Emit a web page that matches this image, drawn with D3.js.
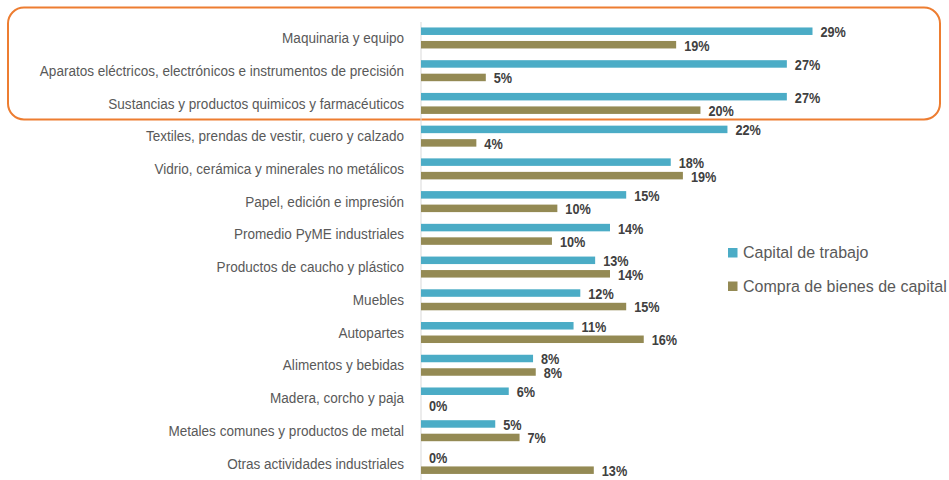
<!DOCTYPE html>
<html>
<head>
<meta charset="utf-8">
<script src="https://cdn.jsdelivr.net/npm/d3@7"></script>
<style>
  html, body { margin: 0; padding: 0; background: #fff; }
  svg { display: block; }
  .cat, .val, .leg { font-family: "Liberation Sans", Arial, sans-serif; }
  .cat { fill: #595959; }
  .val { font-weight: bold; fill: #404040; }
  .leg { fill: #595959; }
</style>
</head>
<body>
<div id="chart"></div>
<script>
const categories = [
  "Maquinaria y equipo",
  "Aparatos eléctricos, electrónicos e instrumentos de precisión",
  "Sustancias y productos quimicos y farmacéuticos",
  "Textiles, prendas de vestir, cuero y calzado",
  "Vidrio, cerámica y minerales no metálicos",
  "Papel, edición e impresión",
  "Promedio PyME industriales",
  "Productos de caucho y plástico",
  "Muebles",
  "Autopartes",
  "Alimentos y bebidas",
  "Madera, corcho y paja",
  "Metales comunes y productos de metal",
  "Otras actividades industriales"
];
const seriesNames = ["Capital de trabajo", "Compra de bienes de capital"];
// bar lengths (percent)
const capitalTrabajo = [29.0, 27.1, 27.1, 22.7, 18.5, 15.2, 14.0, 12.9, 11.8, 11.3, 8.3, 6.5, 5.5, 0];
const bienesCapital  = [18.9, 4.8, 20.7, 4.1, 19.4, 10.1, 9.7, 14.0, 15.2, 16.5, 8.5, 0, 7.3, 12.8];
// printed labels (percent)
const capitalTrabajoLabels = [29, 27, 27, 22, 18, 15, 14, 13, 12, 11, 8, 6, 5, 0];
const bienesCapitalLabels  = [19, 5, 20, 4, 19, 10, 10, 14, 15, 16, 8, 0, 7, 13];
const colors = ["#4BACC6", "#948A54"];

const W = 949, H = 480;

const svg = d3.select("#chart").append("svg").attr("width", W).attr("height", H);

const x = d3.scaleLinear().domain([0, 29]).range([421, 812.5]);
const y = d3.scaleBand().domain(categories).range([21.6, 479.8]);
const yInner = d3.scaleBand().domain(seriesNames).range([0, 21]).paddingInner(0.444);

// highlight box around top three rows
svg.append("rect")
  .attr("x", 8).attr("y", 7.5)
  .attr("width", 932).attr("height", 112)
  .attr("rx", 16).attr("ry", 16)
  .attr("fill", "none")
  .attr("stroke", "#ED7D31")
  .attr("stroke-width", 2);

// vertical axis line
svg.append("line")
  .attr("x1", x(0)).attr("x2", x(0))
  .attr("y1", 22).attr("y2", 480)
  .attr("stroke", "#D9D9D9").attr("stroke-width", 1);

const rows = categories.map((c, i) => ({
  cat: c,
  vals: [
    { s: seriesNames[0], v: capitalTrabajo[i], label: capitalTrabajoLabels[i] },
    { s: seriesNames[1], v: bienesCapital[i], label: bienesCapitalLabels[i] }
  ]
}));

const g = svg.append("g");
const row = g.selectAll("g.row")
  .data(rows)
  .enter()
  .append("g")
  .attr("class", "row")
  .attr("transform", d => `translate(0,${y(d.cat) + y.bandwidth() / 2 - 10.5})`);

row.selectAll("rect")
  .data(d => d.vals)
  .enter()
  .append("rect")
  .attr("x", x(0))
  .attr("y", d => yInner(d.s))
  .attr("width", d => x(d.v) - x(0))
  .attr("height", yInner.bandwidth())
  .attr("fill", (d, i) => colors[i]);

// value labels, squeezed to look like a narrow face
row.selectAll("text.val")
  .data(d => d.vals)
  .enter()
  .append("text")
  .attr("class", "val")
  .attr("transform", d => `translate(${x(d.v) + 8},${yInner(d.s) + yInner.bandwidth() / 2 + 0.5}) scale(0.82,1)`)
  .attr("dy", "0.35em")
  .style("font-size", "15.5px")
  .text(d => d.label + "%");

// category labels
g.selectAll("text.cat")
  .data(categories)
  .enter()
  .append("text")
  .attr("class", "cat")
  .attr("transform", d => `translate(404,${y(d) + y.bandwidth() / 2}) scale(0.935,1)`)
  .attr("dy", "0.35em")
  .attr("text-anchor", "end")
  .style("font-size", "14.5px")
  .text(d => d);

// legend
const legend = svg.append("g").selectAll("g")
  .data(seriesNames)
  .enter()
  .append("g")
  .attr("transform", (d, i) => `translate(728,${252.5 + i * 33.5})`);
legend.append("rect")
  .attr("x", 0).attr("y", -4.5)
  .attr("width", 9.5).attr("height", 9.5)
  .attr("fill", (d, i) => colors[i]);
legend.append("text")
  .attr("class", "leg")
  .attr("transform", "translate(15,0) scale(0.97,1)")
  .attr("dy", "0.35em")
  .style("font-size", "16.5px")
  .text(d => d);
</script>
</body>
</html>
